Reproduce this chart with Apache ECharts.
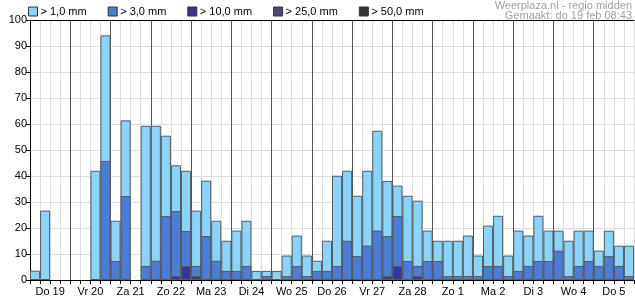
<!DOCTYPE html>
<html><head><meta charset="utf-8">
<script src="https://cdn.jsdelivr.net/npm/echarts@6/dist/echarts.min.js"></script>
<style>html,body{margin:0;padding:0;background:#fff}#c{width:635px;height:300px}</style>
</head><body><div id="c"></div>
<script>
const days = ['Do 19','Vr 20','Za 21','Zo 22','Ma 23','Di 24','Wo 25','Do 26','Vr 27','Za 28','Zo 1','Ma 2','Di 3','Wo 4','Do 5'];
const hours = ['00','06','12','18'];
const yTicks = [0,10,20,30,40,50,60,70,80,90,100];
const seriesNames = ['> 1,0 mm','> 3,0 mm','> 10,0 mm','> 25,0 mm','> 50,0 mm'];
const gt1 = [3.6,26.7,0,0, 0,0,42,94.1, 22.8,61.4,0,59.3, 59.3,55.5,44.1,42, 26.7,38.2,22.8,15.1, 19,22.8,3.5,3.5, 3.5,9.4,17.1,9.4, 7.4,15.1,40.1,42, 32.4,42,57.4,38.1, 36.3,32.4,30.5,19, 15.1,15.1,15.1,17.1, 9.4,20.9,24.7,9.4, 19,17.1,24.7,19, 19,15.1,19,19, 11.3,19,13.2,13.2];
const gt3 = [0,0,0,0, 0,0,0,45.8, 7.3,32.3,0,5.4, 7.4,24.6,26.5,18.8, 5.4,16.9,7.4,3.5, 3.5,5.4,0,1.5, 0,1.5,5.4,1.5, 3.5,3.5,5.4,15.1, 9.2,13.2,19,16.9, 24.6,7.3,5.4,7.3, 7.3,1.5,1.5,1.5, 1.5,5.4,5.4,1.5, 3.5,5.4,7.3,7.3, 11.3,1.5,5.4,7.3, 5.4,9.2,5.4,1.5];
const gt10 = [0,0,0,0, 0,0,0,0, 0,0,0,0, 0,0,1.5,5.4, 1.5,0,0,0, 0,0,0,0, 0,0,0,0, 0,0,0,0, 0,0,0,1.5, 5.4,0,1.5,0, 0,0,0,0, 0,0,0,0, 0,0,0,0, 0,0,0,0, 0,0,0,0];
const gt25 = new Array(60).fill(0);
const gt50 = new Array(60).fill(0);
const colors = ['#88d4fb','#4a7ed6','#35359c','#4a4a6e','#333333'];

const slots = [];
days.forEach(d => hours.forEach(h => slots.push(d + ' ' + h)));
const allData = [gt1, gt3, gt10, gt25, gt50];

const chart = echarts.init(document.getElementById('c'), null, {renderer:'canvas'});
chart.setOption({
  animation:false,
  textStyle:{fontFamily:'Liberation Sans, Arial, sans-serif'},
  color: colors,
  legend:{
    left:23, top:1, itemWidth:9, itemHeight:9, itemGap:21, icon:'rect',
    textStyle:{fontSize:11, color:'#000', padding:[0,0,0,-2]},
    itemStyle:{borderColor:'#333', borderWidth:1},
    data: seriesNames
  },
  graphic:[
    {type:'text', right:3, top:0, style:{text:'Weerplaza.nl - regio midden\nGemaakt: do 19 feb 08:43', fill:'#a0a0a0', font:'11px Liberation Sans, Arial, sans-serif', textAlign:'right', lineHeight:10}}
  ],
  grid:{left:30, right:1, top:20, bottom:20},
  xAxis:[
    {type:'category', data:slots, boundaryGap:true,
     axisLine:{show:true, lineStyle:{color:'#000'}},
     axisTick:{show:true, interval:0, length:4, lineStyle:{color:'#000'}},
     axisLabel:{show:false},
     splitLine:{show:true, interval:0, lineStyle:{color:'#dcdcdc'}}},
    {type:'category', data:days, boundaryGap:true, position:'bottom',
     axisLine:{show:false},
     axisTick:{show:false},
     axisLabel:{show:true, interval:0, fontSize:11, color:'#000', margin:6},
     splitLine:{show:true, interval:0, showMinLine:false, showMaxLine:false, lineStyle:{color:'#555'}}},
    {type:'category', data:days, position:'top',
     axisLine:{show:true, lineStyle:{color:'#000'}},
     axisTick:{show:false}, axisLabel:{show:false}}
  ],
  yAxis:{type:'value', min:yTicks[0], max:yTicks[yTicks.length-1], interval:10,
    axisLine:{show:true, lineStyle:{color:'#000'}},
    axisTick:{show:true, length:4, lineStyle:{color:'#000'}},
    axisLabel:{fontSize:11, color:'#000', margin:3},
    splitLine:{show:true, lineStyle:{color:'#dcdcdc'}}},
  series: seriesNames.map((n,i) => ({
    name:n, type:'bar', xAxisIndex:0, data:allData[i].map(v => v > 0 ? v : null),
    barWidth:'100%', barGap:'-100%',
    itemStyle:{color:colors[i], borderColor:'#5a5a5a', borderWidth:1},
    z: 2+i
  }))
});
</script></body></html>
